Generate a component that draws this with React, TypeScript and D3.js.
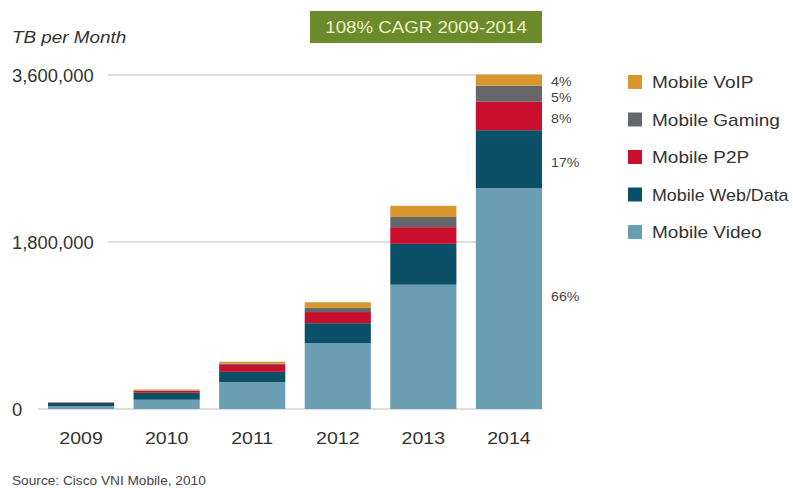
import React from "react";
import * as d3 from "d3";

const years = ["2009", "2010", "2011", "2012", "2013", "2014"];
const seriesNames = ["Mobile Video", "Mobile Web/Data", "Mobile P2P", "Mobile Gaming", "Mobile VoIP"];
const mobileVideo = [30000, 100000, 290000, 710000, 1340000, 2380000];
const mobileWebData = [35000, 75000, 110000, 215000, 440000, 625000];
const mobileP2P = [5000, 20000, 75000, 120000, 180000, 310000];
const mobileGaming = [2000, 5000, 15000, 45000, 110000, 170000];
const mobileVoIP = [3000, 10000, 20000, 60000, 120000, 120000];
const colors = ["#6b9eb2", "#0b5066", "#c8102e", "#65686b", "#d9962f"];
const yTicks = [0, 1800000, 3600000];
const shareLabels = ["66%", "17%", "8%", "5%", "4%"];
const legendOrder = ["Mobile VoIP", "Mobile Gaming", "Mobile P2P", "Mobile Web/Data", "Mobile Video"];

const font = "'Liberation Sans', Arial, Helvetica, sans-serif";

function T(props: any) {
  const { x, y, sx = 1, children, ...rest } = props;
  return (
    <text transform={`translate(${x},${y}) scale(${sx},1)`} {...rest}>
      {children}
    </text>
  );
}

export default function App() {
  const W = 793, H = 488;
  const data = years.map((y, i) => ({
    year: y,
    "Mobile Video": mobileVideo[i],
    "Mobile Web/Data": mobileWebData[i],
    "Mobile P2P": mobileP2P[i],
    "Mobile Gaming": mobileGaming[i],
    "Mobile VoIP": mobileVoIP[i],
  }));
  const stack = d3.stack<any>().keys(seriesNames);
  const layers = stack(data);

  const x = d3.scaleBand<string>().domain(years).range([38.3, 551.7]).paddingInner(0.227).paddingOuter(0.1135);
  const y = d3.scaleLinear().domain([0, 3600000]).range([409, 75]);
  const fmt = d3.format(",");
  const colorOf = (name: string) => colors[seriesNames.indexOf(name)];
  const lastX = (x(years[years.length - 1]) as number) + x.bandwidth();
  const last = years.length - 1;

  return (
    <div style={{ position: "absolute", left: 0, top: 0 }}>
      <svg width={W} height={H} style={{ display: "block", fontFamily: font }}>
        <rect width={W} height={H} fill="#ffffff" />
        {/* title box */}
        <rect x={310} y={11} width={232} height={32} fill="#6a8a2b" />
        <T x={426} y={33} sx={1.1} textAnchor="middle" fontSize={17} fill="#eef2c8">108% CAGR 2009-2014</T>
        <T x={12} y={43} sx={1.18} fontSize={16} fontStyle="italic" fill="#333">TB per Month</T>
        {/* grid lines and y labels */}
        {yTicks.map((t) => {
          const label = fmt(t);
          const startX = t === 0 ? 38 : 108;
          return (
            <g key={t}>
              <line x1={startX} x2={lastX} y1={y(t)} y2={y(t)} stroke="#bdbdbd" strokeWidth={1.2} />
              <T x={12} y={y(t) + 6.5} sx={1.05} fontSize={17.5} fill="#333">{label}</T>
            </g>
          );
        })}
        {/* bars */}
        {layers.map((layer) => (
          <g key={layer.key} fill={colorOf(layer.key)}>
            {layer.map((d, i) => (
              <rect
                key={i}
                x={x(years[i])}
                y={y(d[1])}
                width={x.bandwidth()}
                height={Math.max(0, y(d[0]) - y(d[1]))}
              />
            ))}
          </g>
        ))}
        {/* year labels */}
        {years.map((yr) => (
          <T key={yr} x={(x(yr) as number) + x.bandwidth() / 2} y={444} sx={1.15} textAnchor="middle" fontSize={17} fill="#333">
            {yr}
          </T>
        ))}
        {/* share labels */}
        {layers.map((layer, k) => {
          const d = layer[last];
          const mid = (y(d[0]) + y(d[1])) / 2;
          const adj = [-3, 3, 2, 3, 1][k];
          return (
            <T key={layer.key} x={551} y={mid + 5 + adj} sx={1.05} fontSize={13.5} fill="#444">
              {shareLabels[k]}
            </T>
          );
        })}
        {/* legend */}
        {legendOrder.map((name, i) => {
          const cy = 82 + i * 37.5;
          const sx = name === "Mobile Web/Data" ? 1.05 : 1.12;
          return (
            <g key={name}>
              <rect x={628} y={cy - 7} width={14} height={14} fill={colorOf(name)} />
              <T x={652} y={cy + 6} sx={sx} fontSize={17} fill="#333">{name}</T>
            </g>
          );
        })}
        <T x={12} y={485} sx={1.14} fontSize={12} fill="#444">Source: Cisco VNI Mobile, 2010</T>
      </svg>
    </div>
  );
}
